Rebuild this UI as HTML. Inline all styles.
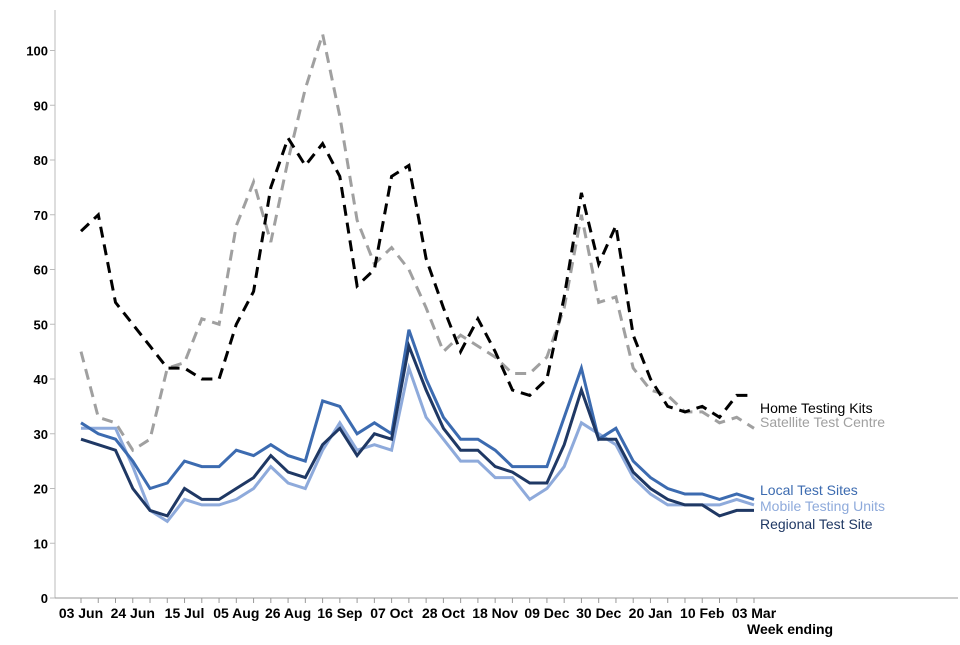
<!DOCTYPE html>
<html><head><meta charset="utf-8"><style>
body{margin:0;background:#fff;font-family:"Liberation Sans",Arial,sans-serif}
svg text{font-family:"Liberation Sans",Arial,sans-serif}
</style></head><body>
<svg id="chart" width="960" height="640" xmlns="http://www.w3.org/2000/svg">
<g id="axes"></g>
<g id="series"></g>
<g id="labels"></g>
</svg>
<script>
const weeks = ["03 Jun","","","24 Jun","","","15 Jul","","","05 Aug","","","26 Aug","","","16 Sep","","","07 Oct","","","28 Oct","","","18 Nov","","","09 Dec","","","30 Dec","","","20 Jan","","","10 Feb","","","03 Mar"];
const yTicks = [0,10,20,30,40,50,60,70,80,90,100];
const homeKits = [67,70,54,50,46,42,42,40,40,50,56,75,84,79,83,77,57,60,77,79,62,53,45,51,45,38,37,40,55,74,61,68,48,40,35,34,35,33,37,37];
const satellite = [45,33,32,27,29,42,43,51,50,68,76,65,80,93,103,88,69,61,64,60,53,45,48,46,44,41,41,44,53,70,54,55,42,38,37,34,34,32,33,31];
const localSites = [32,30,29,25,20,21,25,24,24,27,26,28,26,25,36,35,30,32,30,49,40,33,29,29,27,24,24,24,33,42,29,31,25,22,20,19,19,18,19,18];
const mobileUnits = [31,31,31,24,16,14,18,17,17,18,20,24,21,20,27,32,27,28,27,42,33,29,25,25,22,22,18,20,24,32,30,28,22,19,17,17,17,17,18,17];
const regional = [29,28,27,20,16,15,20,18,18,20,22,26,23,22,28,31,26,30,29,46,38,31,27,27,24,23,21,21,28,38,29,29,23,20,18,17,17,15,16,16];

const NS="http://www.w3.org/2000/svg";
const x0=81, step=(754-81)/39, yBase=598, yScale=5.475;
const X=i=>x0+i*step, Y=v=>yBase-v*yScale;
function mk(tag,attrs,parent,txt){const e=document.createElementNS(NS,tag);for(const k in attrs)e.setAttribute(k,attrs[k]);if(txt!==undefined)e.textContent=txt;parent.appendChild(e);return e;}
const axes=document.getElementById('axes');
let e=mk('line',{x1:55,y1:10,x2:55,y2:598,stroke:'#bbb','stroke-width':1},axes);


e=mk('line',{x1:55,y1:598,x2:958,y2:598,stroke:'#999','stroke-width':1},axes);


yTicks.forEach(v=>{
  const t=mk('line',{x1:50,y1:Y(v),x2:55,y2:Y(v),stroke:'#bbb'},axes);
  
  
  const l=mk('text',{x:48,y:Y(v)+5,'text-anchor':'end','font-size':13,'font-weight':'bold',fill:'#000'},axes,v);
  
  
});
weeks.forEach((w,i)=>{
  const t=mk('line',{x1:X(i),y1:598,x2:X(i),y2:603,stroke:'#999'},axes);
  
  
  if(w){const l=mk('text',{x:X(i),y:618,'text-anchor':'middle','font-size':14,'font-weight':'bold',fill:'#000'},axes,w);
  
  }
});
e=mk('text',{x:747,y:634,'font-size':14,'font-weight':'bold',fill:'#000'},axes,'Week ending');


const ser=document.getElementById('series'), lab=document.getElementById('labels');
const defs=[
 [satellite,'#a0a0a0','11,7','Satellite Test Centre',422,'series-satellite-test-centre'],
 [homeKits,'#000','11,7','Home Testing Kits',408,'series-home-testing-kits'],
 [mobileUnits,'#8eaadb',null,'Mobile Testing Units',506,'series-mobile-testing-units'],
 [localSites,'#3c6bb0',null,'Local Test Sites',490,'series-local-test-sites'],
 [regional,'#1f3864',null,'Regional Test Site',524,'series-regional-test-site']
];
defs.forEach(d=>{
  const pts=d[0].map((v,i)=>X(i).toFixed(1)+','+Y(v).toFixed(1)).join(' ');
  const a={points:pts,fill:'none',stroke:d[1],'stroke-width':3,'stroke-linejoin':'miter'};
  if(d[2])a['stroke-dasharray']=d[2];
  const p=mk('polyline',a,ser);
  
  
  const t=mk('text',{x:760,y:d[4]+5,'font-size':14,fill:d[1]},lab,d[3]);
  
  
});
</script>
</body></html>
